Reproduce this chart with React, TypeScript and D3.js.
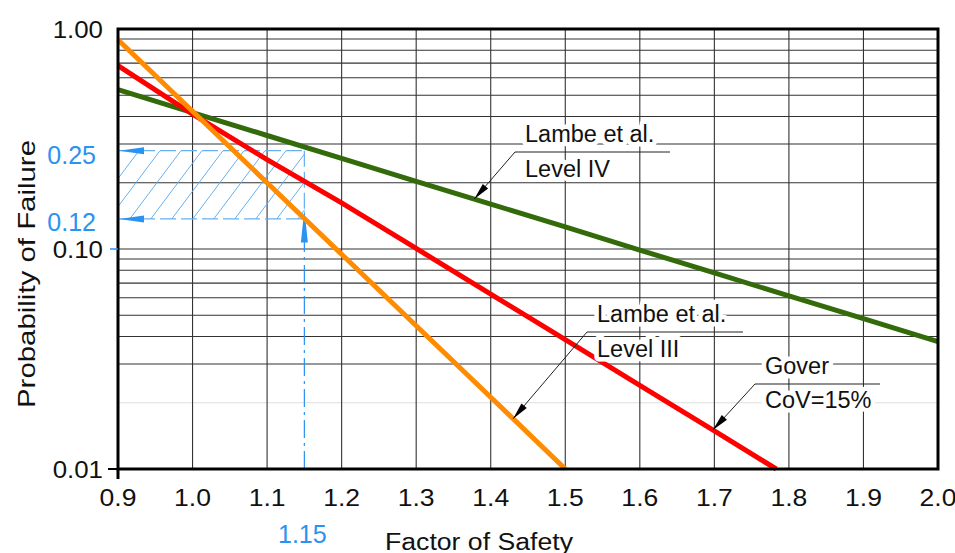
import React from "react";
import * as d3 from "d3";

// ---------- data ----------
const fsTicks = [0.9, 1.0, 1.1, 1.2, 1.3, 1.4, 1.5, 1.6, 1.7, 1.8, 1.9, 2.0];
const probTicks = [1.0, 0.1, 0.01];
const probTickLabels = ["1.00", "0.10", "0.01"];

// Lambe et al. Level III (orange)
const levelIIIFs = [0.9, 1.0, 1.1, 1.2, 1.3, 1.4, 1.5];
const levelIIIPf = [0.894, 0.423, 0.2, 0.0946, 0.0448, 0.0212, 0.01];

// Gover CoV=15% (red)
const goverFs = [0.9, 1.0, 1.1, 1.2, 1.3, 1.4, 1.5, 1.6, 1.7, 1.783];
const goverPf = [0.681, 0.41, 0.255, 0.162, 0.1006, 0.0624, 0.0387, 0.024, 0.0149, 0.01];

// Lambe et al. Level IV (green)
const levelIVFs = [0.9, 1.0, 1.1, 1.2, 1.3, 1.4, 1.5, 1.6, 1.7, 1.8, 1.9, 2.0];
const levelIVPf = [0.53, 0.417, 0.328, 0.258, 0.203, 0.16, 0.126, 0.0989, 0.0778, 0.0612, 0.0482, 0.0379];

// design-point annotation
const designFs = 1.15;
const designFsLabel = "1.15";
const hatchHigh = 0.28;
const hatchLow = 0.137;
const hatchLabels = ["0.25", "0.12"];

// leader annotations: series, FS where arrow points, text lines
const annoSeries = ["levelIV", "levelIII", "gover"];
const annoFs = [1.378, 1.43, 1.698];
const annoLine1 = ["Lambe et al.", "Lambe et al.", "Gover"];
const annoLine2 = ["Level IV", "Level III", "CoV=15%"];

// ---------- layout / style ----------
const W = 955, H = 553;
const M = { left: 118, right: 938, top: 29, bottom: 469 };
const FONT = 'Arial, "Liberation Sans", sans-serif';
const BLUE = "#2a92f2";
const HATCH = "#66b0f2";
const COLORS: Record<string, string> = { levelIII: "#ff8c00", gover: "#ff0000", levelIV: "#336a0a" };
const annoLayout = [
  { elbowX: 515, elbowY: 152, endX: 670, textX: 525, y1: 142, y2: 177 },
  { elbowX: 587, elbowY: 332, endX: 743, textX: 597, y1: 322, y2: 357 },
  { elbowX: 755, elbowY: 384, endX: 880, textX: 765, y1: 374, y2: 408 },
];

const x = d3.scaleLinear().domain([0.9, 2.0]).range([M.left, M.right]);
const y = d3.scaleLog().domain([0.01, 1]).range([M.bottom, M.top]);

const seriesData: Record<string, [number, number][]> = {
  levelIV: levelIVFs.map((f, i) => [f, levelIVPf[i]]),
  gover: goverFs.map((f, i) => [f, goverPf[i]]),
  levelIII: levelIIIFs.map((f, i) => [f, levelIIIPf[i]]),
};

function valueAt(key: string, fs: number) {
  const d = seriesData[key];
  for (let i = 0; i < d.length - 1; i++) {
    if (fs >= d[i][0] && fs <= d[i + 1][0]) {
      const t = (fs - d[i][0]) / (d[i + 1][0] - d[i][0]);
      return Math.pow(10, Math.log10(d[i][1]) + t * (Math.log10(d[i + 1][1]) - Math.log10(d[i][1])));
    }
  }
  return d[d.length - 1][1];
}

const line = d3
  .line<[number, number]>()
  .x((d) => x(d[0]))
  .y((d) => y(d[1]));

function Arrowhead({ tx, ty, fx, fy, len, hw, fill }: any) {
  const a = Math.atan2(ty - fy, tx - fx);
  const bx = tx - len * Math.cos(a), by = ty - len * Math.sin(a);
  const px = -Math.sin(a) * hw, py = Math.cos(a) * hw;
  return <path d={`M${tx},${ty}L${bx + px},${by + py}L${bx - px},${by - py}Z`} fill={fill} />;
}

export default function App() {
  const gridY = y.ticks().filter((v) => v > 0.0100001 && v < 0.99999);
  const gridX = fsTicks.filter((v) => v > 0.91 && v < 1.99);

  const bx0 = M.left, bx1 = x(designFs);
  const byTop = y(hatchHigh), byBot = y(hatchLow);
  const hatchLines: number[] = [];
  const slant = 0.75 * (byBot - byTop);
  for (let k = bx0 - slant; k < bx1; k += 21) hatchLines.push(k);
  const vTip = y(valueAt("levelIII", designFs)) - 9;

  return (
    <svg width={W} height={H} style={{ position: "absolute", left: 0, top: 0, background: "#fff" }} fontFamily={FONT}>
      <rect width={W} height={H} fill="#fff" />
      <defs>
        <clipPath id="hatchClip">
          <rect x={bx0} y={byTop} width={bx1 - bx0} height={byBot - byTop} />
        </clipPath>
      </defs>

      {/* grid */}
      {gridY.map((v) => (
        <line key={"gy" + v} x1={M.left} x2={M.right} y1={y(v)} y2={y(v)}
          stroke={Math.abs(v - 0.02) < 1e-6 ? "#dedede" : "#333"} strokeWidth={1.1} />
      ))}
      {gridX.map((v) => (
        <line key={"gx" + v} x1={x(v)} x2={x(v)} y1={M.top} y2={M.bottom} stroke="#333" strokeWidth={1.1} />
      ))}

      {/* hatch */}
      <g clipPath="url(#hatchClip)">
        {hatchLines.map((k) => (
          <line key={"h" + k} x1={k} y1={byBot} x2={k + slant} y2={byTop} stroke={HATCH} strokeWidth={1} />
        ))}
      </g>
      <g stroke={HATCH} strokeWidth={1.2} strokeDasharray="16 5" fill="none">
        <line x1={bx0} x2={bx1} y1={byTop} y2={byTop} />
        <line x1={bx0} x2={bx1} y1={byBot} y2={byBot} />
        <line x1={bx1} x2={bx1} y1={byTop} y2={byBot} />
      </g>
      <Arrowhead tx={bx0 + 1} ty={byTop} fx={bx1} fy={byTop} len={25} hw={3.5} fill={BLUE} />
      <Arrowhead tx={bx0 + 1} ty={byBot} fx={bx1} fy={byBot} len={25} hw={3.5} fill={BLUE} />
      <line x1={bx1} x2={bx1} y1={M.bottom} y2={vTip + 25} stroke={BLUE} strokeWidth={1.2} strokeDasharray="18 5 3 5" />
      <Arrowhead tx={bx1} ty={vTip} fx={bx1} fy={M.bottom} len={33} hw={3.5} fill={BLUE} />

      {/* series */}
      {["levelIV", "gover", "levelIII"].map((k) => (
        <path key={k} d={line(seriesData[k]) || ""} fill="none" stroke={COLORS[k]} strokeWidth={5} />
      ))}

      {/* frame */}
      <rect x={M.left} y={M.top} width={M.right - M.left} height={M.bottom - M.top} fill="none" stroke="#000" strokeWidth={3} />
      {/* ticks */}
      <line x1={M.left - 10} x2={M.left} y1={y(0.01)} y2={y(0.01)} stroke="#000" strokeWidth={2} />
      <line x1={M.left - 8} x2={M.left} y1={y(0.1)} y2={y(0.1)} stroke={BLUE} strokeWidth={1.5} />
      <line x1={M.left} x2={M.left} y1={M.bottom} y2={M.bottom + 10} stroke="#000" strokeWidth={3} />

      {/* tick labels */}
      {fsTicks.map((v) => (
        <g key={"xt" + v} transform={`translate(${x(v)},${506}) scale(1.13,1)`}>
          <text textAnchor="middle" fontSize={23.5} fill="#111">{v.toFixed(1)}</text>
        </g>
      ))}
      {probTicks.map((v, i) => (
        <g key={"yt" + v} transform={`translate(${M.left - 15},${y(v) + 9}) scale(1.1,1)`}>
          <text textAnchor="end" fontSize={23.5} fill="#111">{probTickLabels[i]}</text>
        </g>
      ))}

      {/* blue labels */}
      <text x={96} y={byTop + 13} textAnchor="end" fontSize={25} fill={BLUE}>{hatchLabels[0]}</text>
      <text x={96} y={byBot + 12} textAnchor="end" fontSize={25} fill={BLUE}>{hatchLabels[1]}</text>
      <text x={bx1 - 2} y={543} textAnchor="middle" fontSize={25} fill={BLUE}>{designFsLabel}</text>

      {/* axis titles */}
      <text x={385} y={550} fontSize={23.5} fill="#111" textLength={188} lengthAdjust="spacingAndGlyphs">Factor of Safety</text>
      <text transform={`translate(35,408) rotate(-90)`} fontSize={24} fill="#111" textLength={268} lengthAdjust="spacingAndGlyphs">Probability of Failure</text>

      {/* annotations */}
      {annoSeries.map((s, i) => {
        const L = annoLayout[i];
        const tx = x(annoFs[i]);
        const ty = y(valueAt(s, annoFs[i]));
        return (
          <g key={"a" + i}>
            <g fontSize={23.5} fill="#111" stroke="#fff" strokeWidth={9} strokeLinejoin="round" style={{ paintOrder: "stroke" }}>
              <text x={L.textX} y={L.y1}>{annoLine1[i]}</text>
              <text x={L.textX} y={L.y2}>{annoLine2[i]}</text>
            </g>
            <line x1={L.elbowX} y1={L.elbowY} x2={L.endX} y2={L.elbowY} stroke="#222" strokeWidth={1} />
            <line x1={L.elbowX} y1={L.elbowY} x2={tx} y2={ty} stroke="#222" strokeWidth={1} />
            <Arrowhead tx={tx} ty={ty} fx={L.elbowX} fy={L.elbowY} len={17} hw={3.5} fill="#000" />
          </g>
        );
      })}
    </svg>
  );
}
